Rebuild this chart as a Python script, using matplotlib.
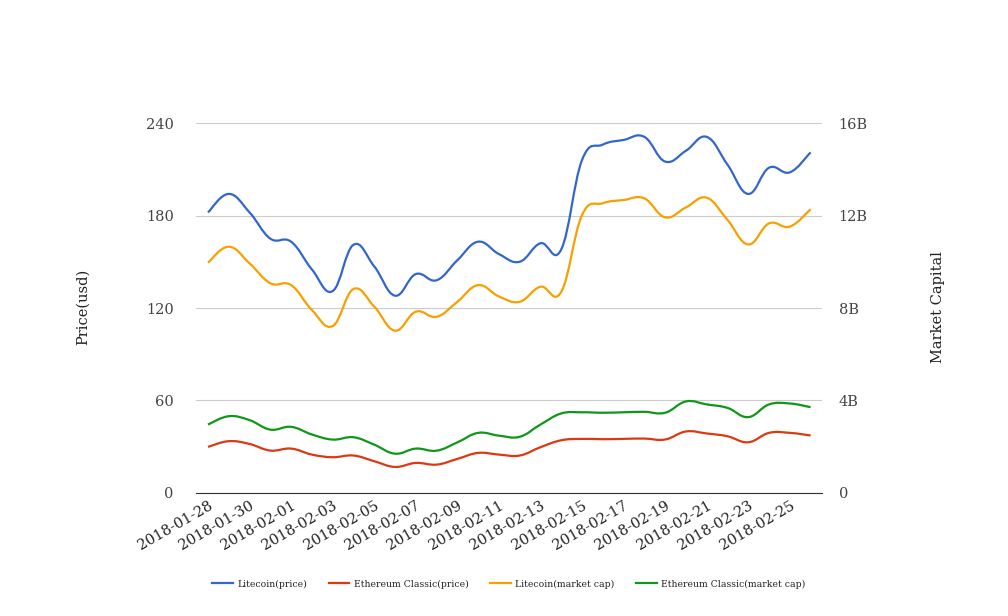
import numpy as np
import pandas as pd
import matplotlib.pyplot as plt
from matplotlib.path import Path
from matplotlib.patches import PathPatch
from matplotlib.lines import Line2D
from matplotlib.ticker import FuncFormatter

## daily data, 2018-01-28 .. 2018-02-26
dates = pd.date_range("2018-01-28", "2018-02-26", freq="D")

ltcPrice = [182, 194, 182, 165, 163, 145, 131, 161, 147, 128,
            142, 138, 151, 163, 155, 150, 162, 158, 216, 226,
            229, 231, 215, 222, 231, 213, 194, 211, 208, 221]
etcPrice = [29.9, 33.6, 31.8, 27.5, 28.8, 24.9, 23.2, 24.3, 20.6, 16.9,
            19.5, 18.4, 22.1, 26.0, 24.9, 24.3, 29.7, 34.2, 35.1, 34.9,
            35.1, 35.3, 34.7, 39.9, 38.6, 36.8, 32.9, 39.0, 39.0, 37.3]
ltcCap = [9.96, 10.65, 9.93, 9.07, 8.99, 7.91, 7.22, 8.82, 8.06, 7.02,
          7.84, 7.62, 8.27, 8.99, 8.5, 8.27, 8.92, 8.70, 12.02, 12.53,
          12.67, 12.74, 11.92, 12.35, 12.77, 11.81, 10.75, 11.66, 11.52, 12.27]
etcCap = [2.96, 3.32, 3.15, 2.74, 2.86, 2.53, 2.31, 2.41, 2.09, 1.70,
          1.92, 1.83, 2.19, 2.60, 2.48, 2.43, 2.96, 3.44, 3.49, 3.47,
          3.49, 3.51, 3.47, 3.96, 3.83, 3.68, 3.28, 3.83, 3.87, 3.71]

priceTicks = [0, 60, 120, 180, 240]
capTicks = [0, 4e9, 8e9, 12e9, 16e9]

colors = {'ltcPrice': '#3366cc', 'etcPrice': '#dc3912',
          'ltcCap': '#f7a000', 'etcCap': '#109618'}

plt.rcParams['font.family'] = ['DejaVu Serif']

## smooth curve through the points as cubic bezier segments
def smoothPath(x, y, t=0.2):
    x = np.asarray(x, float)
    y = np.asarray(y, float)
    n = len(x)
    verts = [(x[0], y[0])]
    codes = [Path.MOVETO]
    for i in range(n - 1):
        p0 = max(i - 1, 0)
        p3 = min(i + 2, n - 1)
        c1 = (x[i] + (x[i + 1] - x[p0]) * t, y[i] + (y[i + 1] - y[p0]) * t)
        c2 = (x[i + 1] - (x[p3] - x[i]) * t, y[i + 1] - (y[p3] - y[i]) * t)
        verts += [c1, c2, (x[i + 1], y[i + 1])]
        codes += [Path.CURVE4] * 3
    return Path(verts, codes)

fig = plt.figure(figsize=(10.08, 6.16), dpi=100)
ax = fig.add_axes([0.1944, 0.1997, 0.6211, 0.6006])
ax2 = ax.twinx()

xs = np.arange(len(dates))

ax.add_patch(PathPatch(smoothPath(xs, ltcPrice), fill=False, lw=1.6, edgecolor=colors['ltcPrice'], zorder=3))
ax.add_patch(PathPatch(smoothPath(xs, etcPrice), fill=False, lw=1.6, edgecolor=colors['etcPrice'], zorder=3))
ax2.add_patch(PathPatch(smoothPath(xs, np.array(ltcCap) * 1e9), fill=False, lw=1.6, edgecolor=colors['ltcCap'], zorder=3))
ax2.add_patch(PathPatch(smoothPath(xs, np.array(etcCap) * 1e9), fill=False, lw=1.6, edgecolor=colors['etcCap'], zorder=3))

ax.set_xlim(-0.58, len(dates) - 1 + 0.55)
ax.set_ylim(0, 240)
ax2.set_ylim(0, 16e9)

ax.set_yticks(priceTicks)
ax2.set_yticks(capTicks)
ax2.yaxis.set_major_formatter(FuncFormatter(lambda v, p: '0' if v == 0 else f'{v/1e9:.0f}B'))

ax.set_xticks(xs[::2])
ax.set_xticklabels([d.strftime('%Y-%m-%d') for d in dates[::2]], rotation=30, ha='right',
                   rotation_mode='anchor', fontsize=10.5, color='#222222')

ax.grid(axis='y', color='#cccccc', lw=0.8)
ax.set_axisbelow(True)
for a in (ax, ax2):
    for s in ('top', 'left', 'right', 'bottom'):
        a.spines[s].set_visible(False)
    a.tick_params(axis='y', length=0, labelsize=10.5, labelcolor='#444444', pad=12)
ax.spines['bottom'].set_visible(True)
ax.spines['bottom'].set_color('#333333')
ax.tick_params(axis='x', length=0, pad=4)
ax.tick_params(axis='y', pad=16)

fig.text(0.082, 0.502, 'Price(usd)', rotation=90, ha='center', va='center', fontsize=10.5, color='#222222')
fig.text(0.931, 0.502, 'Market Capital', rotation=90, ha='center', va='center', fontsize=10.5, color='#222222')

handles = [Line2D([], [], color=colors[k], lw=1.6) for k in ('ltcPrice', 'etcPrice', 'ltcCap', 'etcCap')]
labels = ['Litecoin(price)', 'Ethereum Classic(price)', 'Litecoin(market cap)', 'Ethereum Classic(market cap)']
fig.legend(handles, labels, loc='center', bbox_to_anchor=(0.505, 0.052), ncol=4, frameon=False,
           fontsize=6.7, handlelength=2.2, handletextpad=0.5, columnspacing=2.3, labelcolor='#222222')

fig.savefig('out.png', dpi=100, facecolor='white')
